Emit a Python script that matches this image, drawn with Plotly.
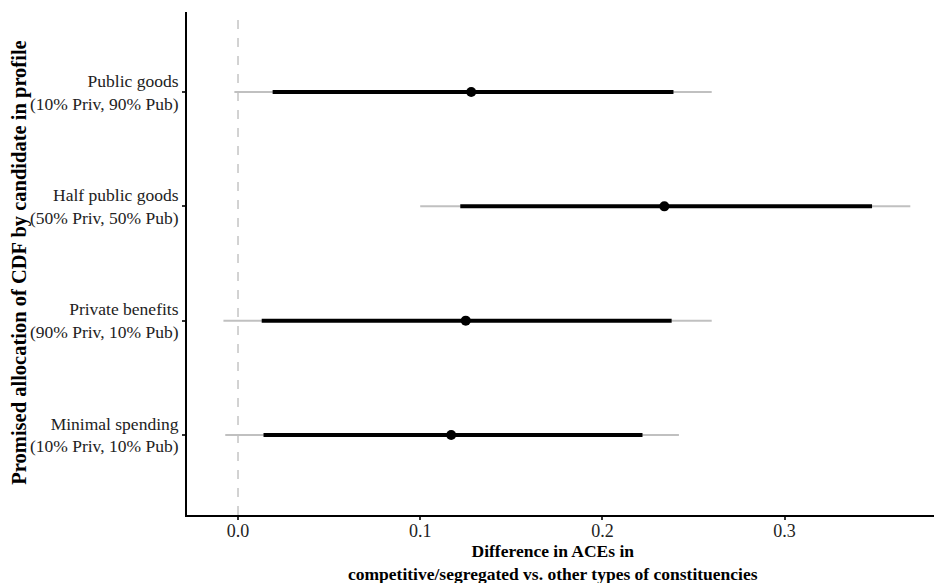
import plotly.graph_objects as go

categories = ["Public goods<br>(10% Priv, 90% Pub)",
              "Half public goods<br>(50% Priv, 50% Pub)",
              "Private benefits<br>(90% Priv, 10% Pub)",
              "Minimal spending<br>(10% Priv, 10% Pub)"]
estimate = [0.128, 0.234, 0.125, 0.117]
ci95_lo = [-0.002, 0.100, -0.008, -0.007]
ci95_hi = [0.260, 0.369, 0.260, 0.242]
ci90_lo = [0.019, 0.122, 0.013, 0.014]
ci90_hi = [0.239, 0.348, 0.238, 0.222]
x_ticks = [0.0, 0.1, 0.2, 0.3]
x_ticktext = ["0.0", "0.1", "0.2", "0.3"]
x_title = "<b>Difference in ACEs in<br>competitive/segregated vs. other types of constituencies</b>"
y_title = "<b>Promised allocation of CDF by candidate in profile</b>"

n = len(categories)
ypos = [n - i for i in range(n)]

def segs(lo, hi):
    xs, ys = [], []
    for a, b, y in zip(lo, hi, ypos):
        xs += [a, b, None]
        ys += [y, y, None]
    return xs, ys

fig = go.Figure()
fig.add_vline(x=0, line=dict(color="#bbbbbb", width=1.3, dash="dash"), layer="below")
tx, ty = segs(ci95_lo, ci95_hi)
fig.add_trace(go.Scatter(x=tx, y=ty, mode="lines", line=dict(color="#c0c0c0", width=2), hoverinfo="skip"))
kx, ky = segs(ci90_lo, ci90_hi)
fig.add_trace(go.Scatter(x=kx, y=ky, mode="lines", line=dict(color="black", width=4), hoverinfo="skip"))
fig.add_trace(go.Scatter(x=estimate, y=ypos, mode="markers", marker=dict(color="black", size=10)))

font = "Liberation Serif, Times New Roman, serif"
fig.update_layout(
    width=934, height=583,
    margin=dict(l=187, r=0, t=12, b=68),
    plot_bgcolor="white", paper_bgcolor="white",
    showlegend=False,
    font=dict(family=font, color="black", size=15),
)
fig.update_xaxes(range=[-0.028, 0.382], tickvals=x_ticks, ticktext=x_ticktext,
                 showgrid=False, zeroline=False, showline=True, linecolor="black", linewidth=1.5,
                 ticks="outside", ticklen=3, tickcolor="#333", tickwidth=2,
                 ticklabelstandoff=-4,
                 tickfont=dict(size=18, family=font, color="#222"))
fig.update_yaxes(range=[0.3, 4.7], tickvals=ypos, ticktext=categories,
                 showgrid=False, zeroline=False, showline=True, linecolor="black", linewidth=2,
                 ticks="outside", ticklen=3, tickcolor="#333", tickwidth=2,
                 tickfont=dict(size=17.5, family=font, color="#222"))
fig.add_annotation(text=x_title, xref="paper", yref="paper", x=0.49, y=-0.047,
                   xanchor="center", yanchor="top", showarrow=False,
                   font=dict(size=17.5, family=font, color="black"))
fig.add_annotation(text=y_title, xref="paper", yref="paper", x=-0.224, y=0.501,
                   xanchor="center", yanchor="middle", textangle=-90, showarrow=False,
                   font=dict(size=20.5, family=font, color="black"))
fig.write_html("out.html")
